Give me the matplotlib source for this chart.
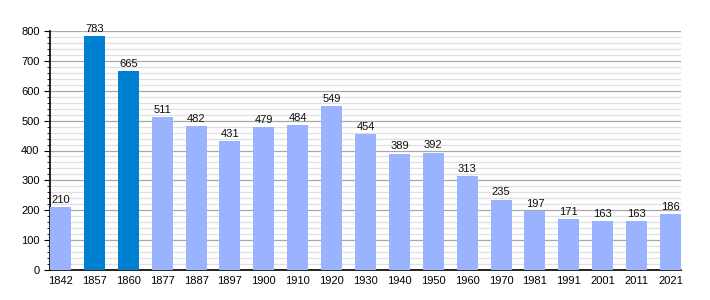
import matplotlib
matplotlib.use("Agg")
import matplotlib.pyplot as plt
from matplotlib.ticker import MultipleLocator

years = ["1842", "1857", "1860", "1877", "1887", "1897", "1900", "1910", "1920",
         "1930", "1940", "1950", "1960", "1970", "1981", "1991", "2001", "2011", "2021"]
population = [210, 783, 665, 511, 482, 431, 479, 484, 549, 454, 389, 392, 313,
              235, 197, 171, 163, 163, 186]
highlight = ["1857", "1860"]

plt.rcParams['font.family'] = ['Liberation Sans', 'DejaVu Sans']

fig = plt.figure(figsize=(7.1, 3.0), dpi=100)
ax = fig.add_axes([50 / 710, 30 / 300, 631 / 710, 239 / 300])

w = 0.62
colors = ['#0080d0' if y in highlight else '#99b3ff' for y in years]
x = range(len(years))
ax.bar(x, population, width=w, color=colors, zorder=3)

for xi, v in zip(x, population):
    ax.text(xi, v + 8, str(v), ha='center', va='bottom', fontsize=8, color='#111111', zorder=4)

ax.set_xlim(-w / 2, len(years) - 1 + w / 2)
ax.set_ylim(0, 800)
ax.set_xticks(list(x))
ax.set_xticklabels(years)
ax.yaxis.set_major_locator(MultipleLocator(100))
ax.yaxis.set_minor_locator(MultipleLocator(20))
ax.grid(which='major', axis='y', color='#a8a8a8', linewidth=0.9, zorder=1)
ax.grid(which='minor', axis='y', color='#e0e0e0', linewidth=0.9, zorder=0)

for s in ['top', 'right']:
    ax.spines[s].set_visible(False)
ax.spines['left'].set_linewidth(1.2)
ax.spines['bottom'].set_linewidth(1.2)
ax.tick_params(axis='x', length=0, labelsize=8, pad=4)
ax.tick_params(axis='y', which='major', length=4, labelsize=8, direction='out')
ax.tick_params(axis='y', which='minor', length=2, direction='out')

fig.savefig('out.png', dpi=100)
